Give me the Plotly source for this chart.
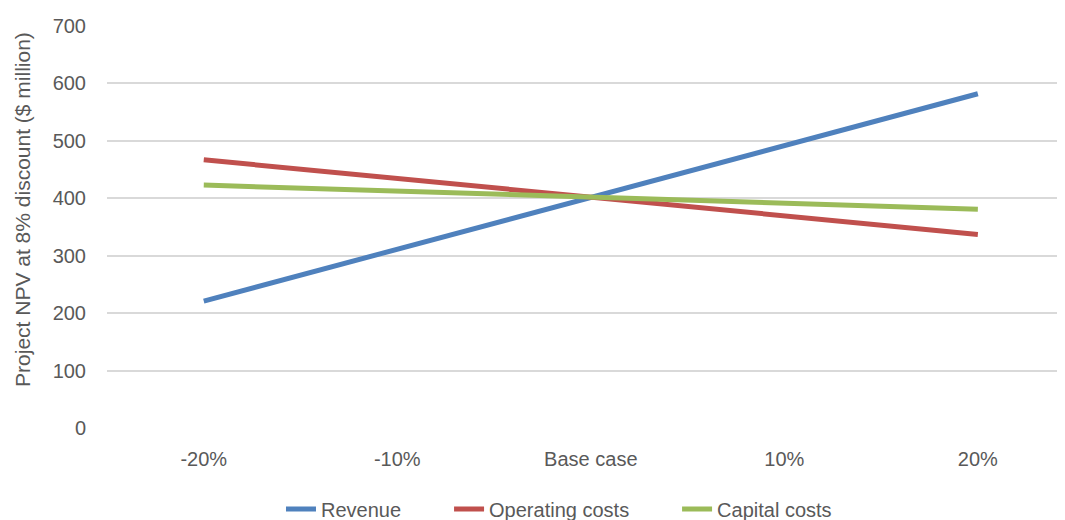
import plotly.graph_objects as go

categories = ["-20%", "-10%", "Base case", "10%", "20%"]
revenue = [221, 311, 402, 492, 582]
operating_costs = [467, 434, 402, 370, 337]
capital_costs = [423, 413, 402, 391, 381]
y_ticks = [0, 100, 200, 300, 400, 500, 600, 700]

series = [
    ("Revenue", revenue, "#4f81bd", "legend", 0.1820),
    ("Operating costs", operating_costs, "#c0504d", "legend2", 0.3578),
    ("Capital costs", capital_costs, "#9bbb59", "legend3", 0.5963),
]

font = dict(family="Liberation Sans, Arial, sans-serif", size=20, color="#595959")

fig = go.Figure()
legends = {}
for name, vals, color, lg, lx in series:
    fig.add_trace(go.Scatter(
        x=list(range(len(categories))), y=vals, name=name, mode="lines",
        line=dict(color=color, width=5), legend=lg,
    ))
    legends[lg] = dict(orientation="h", x=lx, xanchor="left", y=-0.2015, yanchor="middle",
                       font=font, bgcolor="rgba(0,0,0,0)")

fig.update_layout(
    width=1057, height=512,
    margin=dict(l=99, r=2, t=18, b=92, autoexpand=False),
    paper_bgcolor="white", plot_bgcolor="white",
    font=font,
    showlegend=True,
    **legends,
    xaxis=dict(
        tickmode="array", tickvals=list(range(len(categories))), ticktext=categories,
        range=[-0.5, 4.44], showgrid=False, zeroline=False, showline=False,
        ticks="", tickfont=font, ticklabelstandoff=17, automargin=False,
    ),
    yaxis=dict(
        range=[0, 700], tickmode="array", tickvals=y_ticks,
        showgrid=True, gridcolor="#d9d9d9", gridwidth=1.5, zeroline=False,
        showline=False, ticks="", tickfont=font, ticklabelstandoff=20, automargin=False,
    ),
    annotations=[dict(
        text="Project NPV at 8% discount ($ million)", textangle=-90,
        xref="paper", yref="paper", x=-0.0879, y=0.5448,
        xanchor="center", yanchor="middle", showarrow=False,
        font=dict(family="Liberation Sans, Arial, sans-serif", size=21, color="#595959"),
    )],
)

fig.write_html("out.html")
